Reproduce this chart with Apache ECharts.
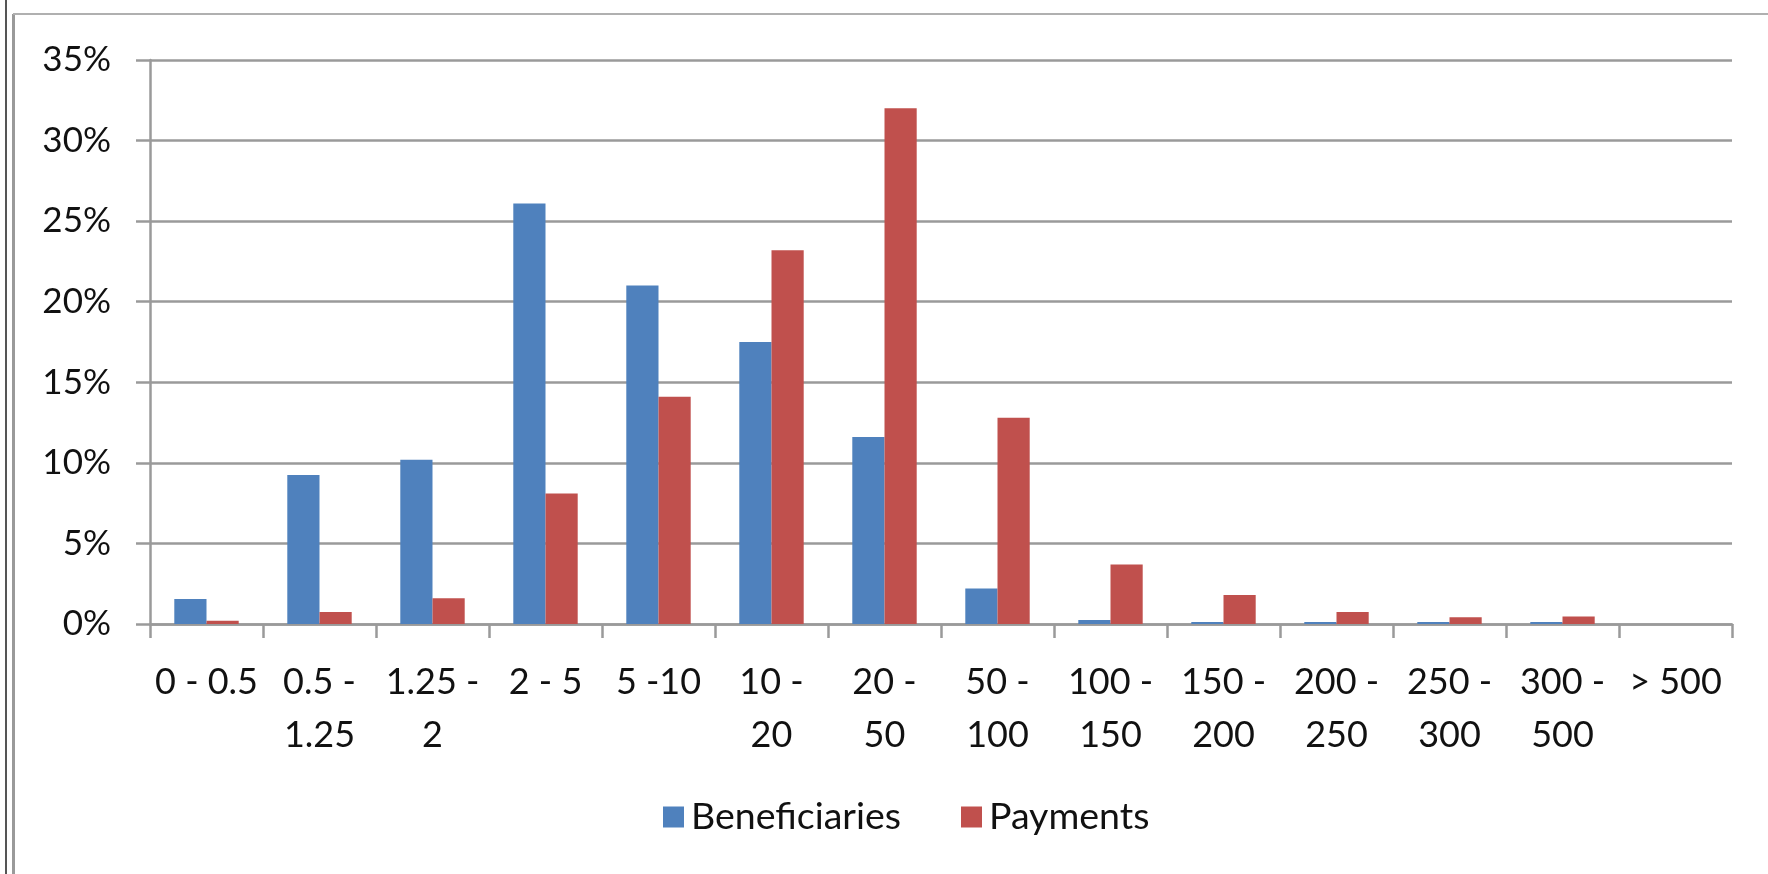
<!DOCTYPE html>
<html>
<head>
<meta charset="utf-8">
<script src="https://cdn.jsdelivr.net/npm/echarts@6/dist/echarts.min.js"></script>
<style>
html,body{margin:0;padding:0;background:#fff;}
#c{width:1768px;height:874px;}
</style>
</head>
<body>
<div id="c"></div>
<script>
var categories = ["0 - 0.5", "0.5 -\n1.25", "1.25 -\n2", "2 - 5", "5 -10", "10 -\n20", "20 -\n50", "50 -\n100", "100 -\n150", "150 -\n200", "200 -\n250", "250 -\n300", "300 -\n500", "> 500"];
var beneficiaries = [1.55, 9.25, 10.2, 26.1, 21.0, 17.5, 11.6, 2.2, 0.25, 0.12, 0.12, 0.12, 0.12, 0];
var payments = [0.2, 0.75, 1.6, 8.1, 14.1, 23.2, 32.0, 12.8, 3.7, 1.8, 0.75, 0.42, 0.47, 0];
var yTicks = {min: 0, max: 35, interval: 5};

var chart = echarts.init(document.getElementById('c'));
var font = 'Lato, "Open Sans", sans-serif';
chart.setOption({
  animation: false,
  backgroundColor: '#ffffff',
  graphic: [
    {type: 'line', shape: {x1: 6, y1: 0, x2: 6, y2: 874}, style: {stroke: '#555', lineWidth: 2}},
    {type: 'line', shape: {x1: 13.5, y1: 14, x2: 13.5, y2: 874}, style: {stroke: '#9a9a9a', lineWidth: 3}},
    {type: 'line', shape: {x1: 13, y1: 14, x2: 1768, y2: 14}, style: {stroke: '#b0b0b0', lineWidth: 2}}
  ],
  grid: {left: 150, right: 36, top: 60, bottom: 250, containLabel: false},
  legend: {
    bottom: 33,
    left: 658,
    itemWidth: 21,
    itemHeight: 21,
    itemGap: 60,
    icon: 'rect',
    textStyle: {fontFamily: font, fontSize: 37.5, color: '#111', padding: [0, 0, 0, 2]},
    data: ['Beneficiaries', 'Payments']
  },
  xAxis: {
    type: 'category',
    data: categories,
    boundaryGap: true,
    axisLine: {show: true, lineStyle: {color: '#9a9a9a', width: 2.5}},
    axisTick: {show: true, alignWithLabel: false, length: 14, lineStyle: {color: '#9a9a9a', width: 2.5}},
    axisLabel: {interval: 0, fontFamily: font, fontSize: 36, color: '#111', margin: 32, lineHeight: 53}
  },
  yAxis: {
    type: 'value',
    min: yTicks.min,
    max: yTicks.max,
    interval: yTicks.interval,
    axisLine: {show: true, lineStyle: {color: '#9a9a9a', width: 2.5}},
    axisTick: {show: true, length: 14, lineStyle: {color: '#9a9a9a', width: 2.5}},
    splitLine: {show: true, lineStyle: {color: '#9a9a9a', width: 2.5}},
    axisLabel: {formatter: '{value}%', fontFamily: font, fontSize: 35, color: '#111', margin: 39}
  },
  series: [
    {name: 'Beneficiaries', type: 'bar', data: beneficiaries, barGap: '0%', barCategoryGap: '43%', itemStyle: {color: '#4F81BD'}},
    {name: 'Payments', type: 'bar', data: payments, barGap: '0%', barCategoryGap: '43%', itemStyle: {color: '#C0504D'}}
  ]
});
</script>
</body>
</html>
